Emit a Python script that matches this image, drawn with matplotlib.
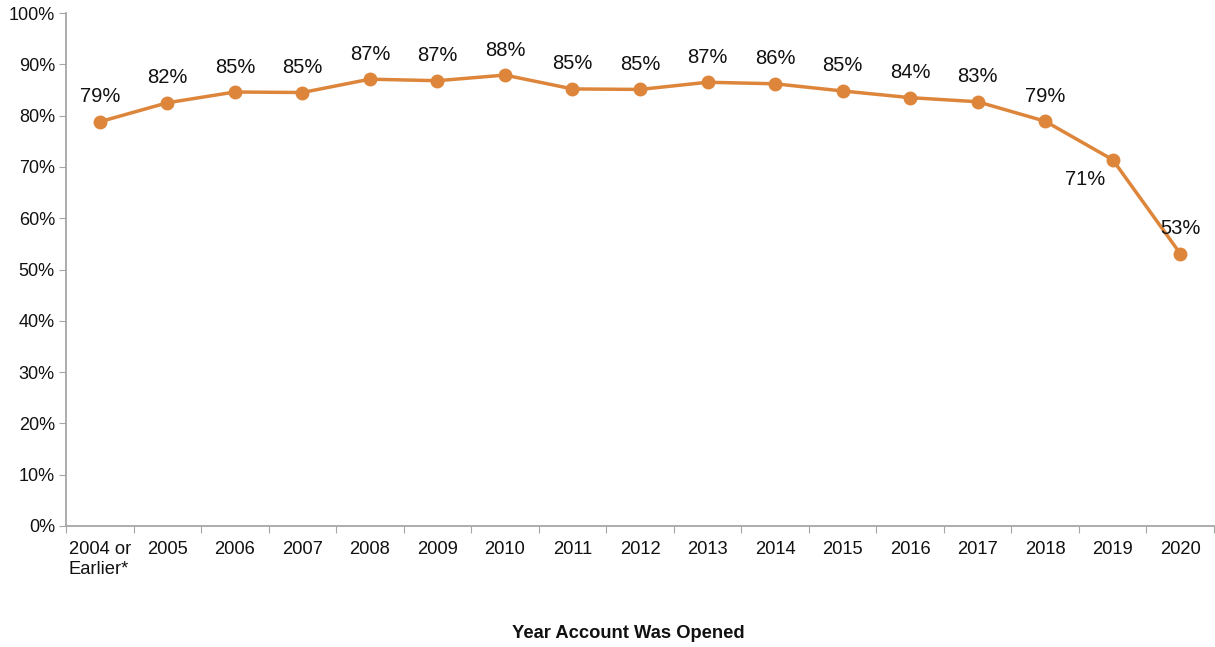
import matplotlib
matplotlib.use("Agg")
import matplotlib.pyplot as plt
from matplotlib.ticker import FixedLocator, FuncFormatter, NullFormatter

plt.rcParams['font.family'] = ['Liberation Sans', 'DejaVu Sans']

categories = ["2004 or\nEarlier*", "2005", "2006", "2007", "2008", "2009", "2010",
              "2011", "2012", "2013", "2014", "2015", "2016", "2017", "2018",
              "2019", "2020"]
values = [78.8, 82.5, 84.6, 84.5, 87.1, 86.8, 87.9, 85.2, 85.1, 86.5, 86.2,
          84.8, 83.5, 82.7, 78.9, 71.4, 53.1]
labels = ["79%", "82%", "85%", "85%", "87%", "87%", "88%", "85%", "85%", "87%",
          "86%", "85%", "84%", "83%", "79%", "71%", "53%"]
y_ticks = [0, 10, 20, 30, 40, 50, 60, 70, 80, 90, 100]

color = "#DD863B"
fig = plt.figure(figsize=(12.15, 6.47), dpi=100)
ax = fig.add_axes([66/1215, 1-526/647, (1214-66)/1215, (526-13)/647])

x = list(range(len(categories)))
ax.plot(x, values, color=color, lw=2.5, marker='o', ms=9, zorder=3)

for i, (v, lab) in enumerate(zip(values, labels)):
    if i == 15:
        off = (-20, -14.5)
    else:
        off = (0, 18)
    ax.annotate(lab, (i, v), xytext=off, textcoords='offset points',
                ha='center', va='center', fontsize=14.5, color='#111111', zorder=4)

ax.set_xlim(-0.5, len(categories) - 0.5)
ax.set_ylim(0, 100)
ax.yaxis.set_major_locator(FixedLocator(y_ticks))
ax.yaxis.set_major_formatter(FuncFormatter(lambda v, p: f"{int(v)}%"))

ax.xaxis.set_major_locator(FixedLocator([i - 0.5 for i in range(len(categories) + 1)]))
ax.xaxis.set_major_formatter(NullFormatter())
ax.xaxis.set_minor_locator(FixedLocator(x))
ax.set_xticklabels(categories, minor=True)
for t in ax.get_xticklabels(minor=True):
    t.set_multialignment('left')
ax.tick_params(axis='x', which='minor', length=0, pad=11, labelsize=13.2, labelcolor='#111111')
ax.tick_params(axis='x', which='major', length=5, color='#A6A6A6')
ax.tick_params(axis='y', length=5, color='#A6A6A6', labelsize=13, labelcolor='#111111', pad=3)

for s in ['top', 'right']:
    ax.spines[s].set_visible(False)
for s in ['left', 'bottom']:
    ax.spines[s].set_color('#A6A6A6')
    ax.spines[s].set_linewidth(1.3)

fig.text(628/1215, 1-634/647, "Year Account Was Opened", ha='center', va='center',
         fontsize=13.2, fontweight='bold', color='#111111')

fig.savefig("out.png", dpi=100)
